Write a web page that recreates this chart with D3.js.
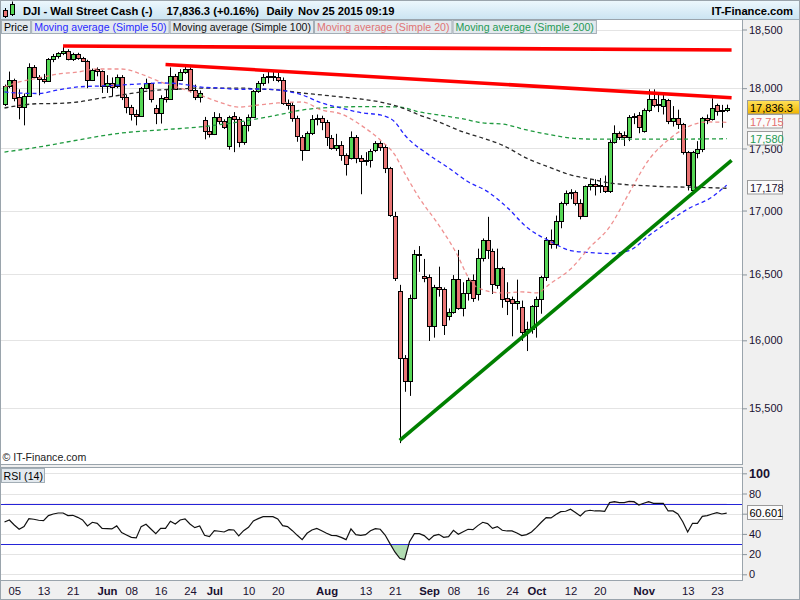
<!DOCTYPE html>
<html><head><meta charset="utf-8">
<script src="https://cdn.jsdelivr.net/npm/d3@7"></script>
<style>
html,body{margin:0;padding:0;background:#f0f0f0;}
svg{display:block;font-family:Arial,"Liberation Sans",sans-serif;}
</style></head><body>
<svg id="c" width="800" height="600"></svg>
<script>
// ---------- DATA ----------
const openP=[17865,18015,18070,17925,17840,17935,18180,18095,18080,18060,
18245,18272,18298,18312,18244,18287,18258,18230,18070,18160,
18142,18015,18040,18015,18095,17930,17846,17780,17770,17998,
18040,17835,17790,17930,17910,18105,18069,18138,18160,17985,
17925,17731,17643,17615,17760,17726,17520,17766,17740,17555,
17690,17760,17975,18040,18095,18105,18095,18065,17875,17860,
17750,17595,17490,17630,17740,17755,17715,17585,17505,17530,
17445,17420,17595,17420,17400,17410,17490,17545,17510,17340,
16960,16375,15870,15700,16320,16655,16490,16480,16110,16405,
16385,16185,16215,16465,16245,16355,16460,16350,16630,16765,
16680,16420,16550,16320,16310,16280,16250,16065,16085,16255,
16310,16480,16765,16735,16915,17060,17140,17150,17060,16955,
17195,17213,17198,17195,17153,17557,17625,17610,17597,17770,
17775,17641,17815,17910,17855,17850,17900,17730,17752,17700,
17470,17160,17467,17494,17748,17740,17860,17812,17815];
const highP=[18030,18140,18080,17990,17955,18210,18195,18110,18120,18255,
18290,18305,18350,18330,18300,18300,18265,18240,18165,18175,
18150,18110,18090,18115,18110,17945,17860,17820,18010,18080,
18045,17860,17940,17985,18175,18120,18160,18180,18175,18030,
17980,17760,17680,17800,17790,17740,17770,17800,17760,17720,
17780,17985,18060,18120,18140,18150,18140,18090,17905,17880,
17770,17610,17640,17775,17780,17770,17735,17610,17620,17560,
17460,17640,17610,17445,17470,17495,17560,17560,17530,17350,
16990,16420,15890,16345,16690,16720,16620,16500,16420,16560,
16400,16240,16495,16690,16440,16475,16500,16700,16780,16950,
16700,16700,16560,16440,16330,16460,16300,16140,16265,16330,
16490,16790,16850,16960,17070,17160,17170,17160,17090,17200,
17250,17250,17260,17280,17570,17690,17640,17640,17775,17790,
17800,17830,17990,17990,17960,17945,17910,17850,17820,17710,
17480,17480,17560,17760,17780,17915,17870,17860,17862];
const lowP=[17850,18000,17890,17740,17690,17930,18085,17940,18040,18055,
18220,18250,18280,18235,18230,18240,18225,18000,18060,18100,
17960,17960,17930,18000,17900,17790,17730,17690,17760,17990,
17880,17700,17705,17880,17905,17985,18060,18120,17965,17900,
17880,17575,17590,17610,17700,17660,17490,17470,17510,17530,
17640,17755,17960,18020,18040,18060,18050,17860,17820,17720,
17555,17400,17480,17610,17690,17650,17520,17490,17480,17400,
17280,17410,17380,17130,17360,17345,17470,17480,17300,16950,
16450,15250,15620,15590,16310,16520,16440,15995,16020,16330,
16040,16150,16200,16230,16180,16300,16290,16300,16600,16620,
16350,16390,16245,16190,16030,16230,15995,15920,16050,16020,
16200,16450,16700,16700,16860,17040,17090,17040,16930,16950,
17160,17120,17140,17140,17140,17540,17570,17520,17560,17700,
17625,17630,17800,17840,17800,17780,17700,17680,17660,17450,
17160,17140,17420,17470,17700,17730,17770,17670,17800];
const closeP=[18015,18070,17915,17841,17935,18175,18095,18075,18060,18245,
18275,18298,18312,18245,18287,18255,18230,18070,18155,18142,
18015,18040,18011,18095,17930,17846,17780,17770,17998,18040,
17905,17791,17915,17910,18105,17995,18138,18161,17985,17925,
17960,17643,17615,17760,17726,17675,17760,17740,17555,17690,
17760,17975,18040,18095,18105,18090,18065,17875,17860,17750,
17600,17490,17630,17740,17755,17720,17595,17505,17530,17445,
17375,17595,17425,17400,17410,17480,17545,17510,17340,16965,
16470,15870,15700,16320,16655,16650,16475,16110,16400,16385,
16115,16215,16465,16245,16355,16460,16320,16630,16765,16687,
16430,16550,16315,16300,16280,16300,16065,16085,16255,16310,
16480,16765,16735,16915,17060,17140,17150,17060,16955,17195,
17213,17195,17202,17153,17557,17625,17597,17590,17763,17760,
17680,17815,17910,17855,17865,17905,17730,17752,17700,17470,
17200,17470,17494,17748,17735,17830,17812,17818,17836.3];

const rsiValues=[51.8,53.8,48.8,44.6,47.2,55.1,54.5,53.5,53.1,58.1,
59.7,60.7,60.7,58.1,58.4,56.4,53.8,47.9,51.5,50.5,
45.5,45.2,44.9,47.9,41.3,38.9,36.6,36.0,47.2,49.5,
44.9,40.3,45.5,45.5,52.5,49.8,53.8,54.8,49.8,46.2,
47.9,38.6,37.3,43.2,42.6,41.9,44.2,43.9,38.0,43.2,
46.5,52.8,55.1,57.1,57.1,57.1,54.8,48.2,47.2,43.2,
38.6,34.3,40.6,43.9,45.5,43.2,40.6,38.6,38.3,36.6,
34.3,44.9,39.3,38.6,39.3,43.2,45.2,44.6,38.9,30.4,
22.1,15.8,14.5,32.3,40.3,40.3,38.3,34.0,38.3,39.6,
36.6,37.3,43.6,39.6,42.2,44.6,44.2,48.2,51.5,50.2,
45.5,47.2,43.6,42.9,42.9,40.9,38.3,39.3,41.9,46.5,
51.5,56.1,55.8,59.1,62.0,62.4,64.4,61.1,57.8,62.4,
63.4,62.7,62.7,62.4,71.0,71.9,71.0,71.0,72.3,71.9,
68.6,70.3,71.9,70.3,70.3,70.3,62.7,62.7,59.7,52.1,
41.9,50.5,50.5,57.4,58.1,59.7,61.1,59.7,60.601];

const sma20=[["2015-05-01",18010],["2015-05-06",18052],["2015-05-12",18086],["2015-05-18",18119],["2015-05-22",18136],["2015-05-28",18162],["2015-06-04",18162],["2015-06-10",18119],["2015-06-16",18052],["2015-06-22",18001],["2015-06-26",17943],["2015-07-02",17884],["2015-07-08",17842],["2015-07-14",17859],["2015-07-20",17876],["2015-07-27",17884],["2015-07-31",17817],["2015-08-06",17784],["2015-08-12",17693],["2015-08-18",17569],["2015-08-21",17447],["2015-08-25",17300],["2015-08-28",17100],["2015-09-03",16885],["2015-09-09",16636],["2015-09-11",16481],["2015-09-15",16397],["2015-09-22",16358],["2015-09-28",16366],["2015-10-01",16358],["2015-10-06",16434],["2015-10-12",16542],["2015-10-16",16713],["2015-10-22",16870],["2015-10-28",17140],["2015-11-03",17406],["2015-11-09",17569],["2015-11-13",17677],["2015-11-19",17718],["2015-11-25",17715]];
const sma50=[["2015-05-01",17968],["2015-05-06",17959],["2015-05-12",17955],["2015-05-18",17985],["2015-05-22",18010],["2015-05-29",18019],["2015-06-04",18027],["2015-06-10",18036],["2015-06-16",18044],["2015-06-22",18036],["2015-06-26",18010],["2015-07-02",18001],["2015-07-08",17990],["2015-07-14",17993],["2015-07-20",17985],["2015-07-27",17943],["2015-07-31",17876],["2015-08-06",17834],["2015-08-12",17795],["2015-08-18",17776],["2015-08-21",17718],["2015-08-25",17611],["2015-09-01",17447],["2015-09-07",17342],["2015-09-11",17230],["2015-09-17",17151],["2015-09-23",17025],["2015-09-29",16869],["2015-10-06",16754],["2015-10-12",16685],["2015-10-16",16669],["2015-10-22",16662],["2015-10-28",16685],["2015-11-03",16801],["2015-11-09",16910],["2015-11-13",17012],["2015-11-20",17108],["2015-11-25",17203]];
const sma100=[["2015-05-01",17834],["2015-05-06",17855],["2015-05-12",17870],["2015-05-18",17872],["2015-05-22",17884],["2015-05-29",17918],["2015-06-04",17943],["2015-06-10",17968],["2015-06-16",17985],["2015-06-22",17993],["2015-06-26",18001],["2015-07-02",18001],["2015-07-08",18001],["2015-07-14",17993],["2015-07-20",17985],["2015-07-27",17959],["2015-07-31",17943],["2015-08-06",17926],["2015-08-12",17909],["2015-08-18",17884],["2015-08-24",17842],["2015-08-28",17776],["2015-09-03",17718],["2015-09-10",17635],["2015-09-16",17585],["2015-09-22",17528],["2015-09-29",17421],["2015-10-06",17342],["2015-10-12",17285],["2015-10-16",17253],["2015-10-22",17221],["2015-10-28",17205],["2015-11-03",17197],["2015-11-09",17189],["2015-11-13",17187],["2015-11-19",17183],["2015-11-25",17178]];
const sma200=[["2015-05-01",17471],["2015-05-12",17512],["2015-05-22",17569],["2015-06-04",17627],["2015-06-16",17652],["2015-06-26",17677],["2015-07-08",17718],["2015-07-16",17760],["2015-07-20",17776],["2015-07-27",17817],["2015-07-31",17834],["2015-08-06",17842],["2015-08-12",17845],["2015-08-18",17845],["2015-08-24",17842],["2015-08-28",17801],["2015-09-03",17776],["2015-09-10",17743],["2015-09-16",17710],["2015-09-22",17701],["2015-09-29",17652],["2015-10-06",17611],["2015-10-12",17586],["2015-10-16",17577],["2015-10-28",17577],["2015-11-09",17577],["2015-11-19",17578],["2015-11-25",17580]];

// trend lines: [trading-day index, price]
const trendRedTop=[[12,18358],[149,18324]];
const trendRedMid=[[33,18200],[149,17920]];
const trendGreen=[[81,15269],[149,17402]];

const priceTicks=[15500,16000,16500,17000,17500,18000,18500];
const rsiTicks=[0,20,40,60,80,100];
const rsiTickLabels=["0","20","40","","80","100"]; // "60" is hidden behind the value box in the reference
const xTickDates=["2015-05-05","2015-05-13","2015-05-21","2015-06-01","2015-06-08","2015-06-16","2015-06-24","2015-07-01","2015-07-10","2015-07-20","2015-08-03","2015-08-13","2015-08-21","2015-09-01","2015-09-08","2015-09-16","2015-09-24","2015-10-01","2015-10-12","2015-10-20","2015-11-02","2015-11-13","2015-11-23"];
const xTickLabels=["05","13","21","Jun","08","16","24","Jul","10","20","Aug","13","21","Sep","08","16","24","Oct","12","20","Nov","13","23"];
const legendItems=[["Price","#000"],["Moving average (Simple 50)","#2a2aff"],["Moving average (Simple 100)","#111"],["Moving average (Simple 20)","#e07474"],["Moving average (Simple 200)","#1f9a55"]];

// ---------- SCALES ----------
const fmtD=d3.timeFormat("%Y-%m-%d");
const dates=d3.timeDay.range(new Date(2015,4,1),new Date(2015,10,26)).filter(d=>d.getDay()%6!==0);
const idx=new Map(dates.map((d,i)=>[fmtD(d),i]));
const x=d3.scaleLinear().domain([0,dates.length-1]).range([4.5,726.7]);
const y=d3.scaleLog().domain([15500,18500]).range([408.3,29.5]);
const yR=d3.scaleLinear().domain([0,100]).range([574.3,473.3]);
const PR=742; // right edge of plot panels

const svg=d3.select("#c");
const defs=svg.append("defs");
const hg=defs.append("linearGradient").attr("id","hdr").attr("x1",0).attr("y1",0).attr("x2",0).attr("y2",1);
hg.append("stop").attr("offset","0").attr("stop-color","#eef8fd");
hg.append("stop").attr("offset","1").attr("stop-color","#cbe4f2");
const gg=defs.append("linearGradient").attr("id","gold").attr("x1",0).attr("y1",0).attr("x2",0).attr("y2",1);
gg.append("stop").attr("offset","0").attr("stop-color","#ffe15a");
gg.append("stop").attr("offset","1").attr("stop-color","#f0b400");
defs.append("clipPath").attr("id","pclip").append("rect").attr("x",1).attr("y",20).attr("width",PR-1).attr("height",444);
defs.append("clipPath").attr("id","obClip").append("rect").attr("x",1).attr("y",468).attr("width",PR-1).attr("height",yR(70)-468);
defs.append("clipPath").attr("id","osClip").append("rect").attr("x",1).attr("y",yR(30)).attr("width",PR-1).attr("height",580-yR(30));

svg.append("rect").attr("width",800).attr("height",600).attr("fill","#f0f0f0");

// header
svg.append("rect").attr("x",0).attr("y",0).attr("width",800).attr("height",19.5).attr("fill","url(#hdr)");
svg.append("line").attr("x1",0).attr("x2",800).attr("y1",19.5).attr("y2",19.5).attr("stroke","#9fb0ba");
const ic=svg.append("g");
ic.append("line").attr("x1",5.5).attr("x2",5.5).attr("y1",8).attr("y2",18).attr("stroke","#000");
ic.append("rect").attr("x",3.5).attr("y",10.5).attr("width",4).attr("height",6).attr("fill","#e97474").attr("stroke","#000");
ic.append("line").attr("x1",12.5).attr("x2",12.5).attr("y1",1.5).attr("y2",16).attr("stroke","#000");
ic.append("rect").attr("x",10.5).attr("y",4.5).attr("width",4).attr("height",10).attr("fill","#56d856").attr("stroke","#000");
const ht=svg.append("g").attr("font-weight","bold").attr("font-size","11.2px").attr("fill","#000");
ht.append("text").attr("x",23).attr("y",15).text("DJI - Wall Street Cash (-)");
ht.append("text").attr("x",166.5).attr("y",15).text("17,836.3 (+0.16%)");
ht.append("text").attr("x",266.5).attr("y",15).text("Daily");
ht.append("text").attr("x",298).attr("y",15).text("Nov 25 2015 09:19");
ht.append("text").attr("x",793).attr("y",15).attr("text-anchor","end").text("IT-Finance.com");

// panels
svg.append("rect").attr("x",0.5).attr("y",19.5).attr("width",PR).attr("height",445).attr("fill","#fff").attr("stroke","#9aa4ac");
svg.append("rect").attr("x",0.5).attr("y",467.5).attr("width",PR).attr("height",113).attr("fill","#fff").attr("stroke","#9aa4ac");

// price grid
svg.append("g").selectAll("line").data(priceTicks).join("line")
  .attr("x1",1).attr("x2",PR).attr("y1",d=>Math.round(y(d))+0.5).attr("y2",d=>Math.round(y(d))+0.5)
  .attr("stroke","#e4e4e4");

const pg=svg.append("g").attr("clip-path","url(#pclip)");

// candles
const cg=pg.append("g");
dates.forEach((d,i)=>{
  const cx=Math.round(x(i));
  const o=openP[i],c=closeP[i],h=highP[i],l=lowP[i];
  cg.append("line").attr("x1",cx+0.5).attr("x2",cx+0.5).attr("y1",y(h)).attr("y2",y(l)).attr("stroke","#000").attr("stroke-width",1);
  const top=Math.round(y(Math.max(o,c)))+0.5, bot=Math.round(y(Math.min(o,c)))+0.5;
  cg.append("rect").attr("x",cx-1.5).attr("y",top).attr("width",4).attr("height",Math.max(0,bot-top))
    .attr("fill",c>=o?"#56d856":"#e97474").attr("stroke","#000").attr("stroke-width",1);
});

// moving averages
const maLine=d3.line().x(d=>x(idx.get(d[0]))).y(d=>y(d[1])).curve(d3.curveMonotoneX);
[[sma200,"#1f9a3f",1],[sma100,"#2a2a2a",1],[sma50,"#2424ff",1],[sma20,"#ec7c7c",0.85]].forEach(([s,col,op])=>{
  pg.append("path").attr("d",maLine(s)).attr("fill","none").attr("stroke",col).attr("stroke-opacity",op)
    .attr("stroke-width",1.3).attr("stroke-dasharray","4,3");
});

// trend lines
[[trendRedTop,"#ff0000"],[trendRedMid,"#ff0000"],[trendGreen,"#008000"]].forEach(([t,col])=>{
  pg.append("line").attr("x1",x(t[0][0])).attr("y1",y(t[0][1])).attr("x2",x(t[1][0])).attr("y2",y(t[1][1]))
    .attr("stroke",col).attr("stroke-width",3.6);
});

// legend tabs
let tx=1.5;
const lg=svg.append("g").attr("font-size","10.6px");
legendItems.forEach(([t,col])=>{
  const g=lg.append("g");
  const rect=g.append("rect").attr("y",20.5).attr("height",13).attr("fill","#e3e9ee").attr("stroke","#a3aeb6");
  const te=g.append("text").attr("x",tx+2.5).attr("y",30.5).attr("fill",col).text(t);
  const w=te.node().getComputedTextLength()+5;
  rect.attr("x",tx).attr("width",w);
  tx+=w+1;
});
svg.append("text").attr("x",2.5).attr("y",461).attr("font-size","10.6px").attr("fill","#222").text("\u00A9 IT-Finance.com");

// price axis
const pa=svg.append("g").attr("transform",`translate(${PR},0)`)
  .call(d3.axisRight(y).tickValues(priceTicks).tickFormat(d3.format(",")).tickSize(5).tickPadding(2));
pa.select(".domain").remove();
pa.selectAll(".tick line").attr("stroke","#8a949c");
pa.selectAll(".tick text").attr("fill","#1a1030").attr("font-size","11px").attr("font-family","Arial,'Liberation Sans',sans-serif");

// last-value labels
const lastLabels=[
  [sma100[sma100.length-1][1],d3.format(",")(sma100[sma100.length-1][1]),"#fbfbfb","#1a1030",35],
  [sma200[sma200.length-1][1],d3.format(",")(sma200[sma200.length-1][1]),"#fbfbfb","#1f9a55",35],
  [sma20[sma20.length-1][1],d3.format(",")(sma20[sma20.length-1][1]),"#fbfbfb","#e47070",35],
  [closeP[closeP.length-1],d3.format(",.1f")(closeP[closeP.length-1]),"url(#gold)","#000",56]
];
lastLabels.forEach(([v,t,bg,col,w])=>{
  const cy=Math.round(y(v));
  svg.append("rect").attr("x",747.5).attr("y",cy-7.5).attr("width",w).attr("height",13.5).attr("fill",bg).attr("stroke","#9a9a9a");
  svg.append("text").attr("x",750).attr("y",cy+4).attr("font-size","11px").attr("fill",col).text(t);
});

// RSI panel
svg.append("g").selectAll("line").data(rsiTicks).join("line")
  .attr("x1",1).attr("x2",PR).attr("y1",d=>Math.round(yR(d))+0.5).attr("y2",d=>Math.round(yR(d))+0.5).attr("stroke","#e4e4e4");
const rArea=d3.area().x((d,i)=>x(i)).y1(d=>yR(d));
svg.append("path").attr("clip-path","url(#obClip)").attr("d",rArea.y0(yR(70))(rsiValues)).attr("fill","#dcb4c4").attr("stroke","none");
svg.append("path").attr("clip-path","url(#osClip)").attr("d",rArea.y0(yR(30))(rsiValues)).attr("fill","#b2dcb2").attr("stroke","none");
[70,30].forEach(v=>svg.append("line").attr("x1",1).attr("x2",PR).attr("y1",Math.round(yR(v))+0.5).attr("y2",Math.round(yR(v))+0.5).attr("stroke","#2424d8"));
svg.append("path").attr("d",d3.line().x((d,i)=>x(i)).y(d=>yR(d))(rsiValues)).attr("fill","none").attr("stroke","#111").attr("stroke-width",1.2);
svg.append("rect").attr("x",1.5).attr("y",468.5).attr("width",43).attr("height",14).attr("fill","#e3e9ee").attr("stroke","#a3aeb6");
svg.append("text").attr("x",3.5).attr("y",479.5).attr("font-size","10.6px").attr("fill","#000").text("RSI (14)");

const ra=svg.append("g").attr("transform",`translate(${PR},0)`)
  .call(d3.axisRight(yR).tickValues(rsiTicks).tickFormat((d,i)=>rsiTickLabels[i]).tickSize(5).tickPadding(2));
ra.select(".domain").remove();
ra.selectAll(".tick line").attr("stroke","#8a949c");
ra.selectAll(".tick text").attr("fill","#1a1030").attr("font-size",d=>d===100?"12.6px":"11px").attr("font-weight",d=>d===100?"bold":"normal").attr("font-family","Arial,'Liberation Sans',sans-serif");
{
  const v=rsiValues[rsiValues.length-1], cy=Math.round(yR(v));
  svg.append("rect").attr("x",747.5).attr("y",cy-7.5).attr("width",35).attr("height",14).attr("fill","#fbfbfb").attr("stroke","#9a9a9a");
  svg.append("text").attr("x",749.5).attr("y",cy+4).attr("font-size","11px").attr("fill","#000").text(d3.format(".3f")(v));
}

// x axis
const months=new Set(["Jun","Jul","Aug","Sep","Oct","Nov"]);
const xa=svg.append("g").attr("transform","translate(0,580)")
  .call(d3.axisBottom(x).tickValues(xTickDates.map(d=>idx.get(d))).tickFormat((d,i)=>xTickLabels[i]).tickSize(0).tickPadding(7));
xa.select(".domain").remove();
xa.selectAll(".tick text").attr("fill","#1a1030").attr("font-size","11.3px").attr("font-family","Arial,'Liberation Sans',sans-serif")
  .attr("font-weight",(d,i)=>months.has(xTickLabels[i])?"bold":"normal");

svg.append("rect").attr("x",0.5).attr("y",0.5).attr("width",799).attr("height",599).attr("fill","none").attr("stroke","#9aa4ac");
</script>
</body></html>
